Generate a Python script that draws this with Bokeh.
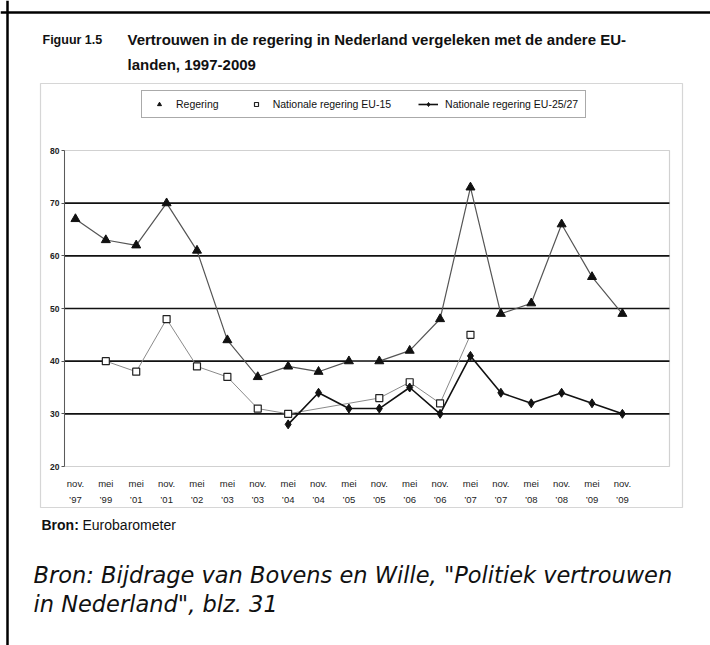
from bokeh.plotting import figure
from bokeh.models import (Range1d, FixedTicker, LinearAxis, Label, BoxAnnotation,
                          Legend, LegendItem, Span)
from bokeh.embed import file_html
from bokeh.resources import INLINE

# ---- data ----
period_month = ["nov.", "mei", "mei", "nov.", "mei", "mei", "nov.", "mei", "nov.", "mei",
                "nov.", "mei", "nov.", "mei", "nov.", "mei", "nov.", "mei", "nov."]
period_year = ["’97", "’99", "’01", "’01", "’02", "’03", "’03", "’04", "’04", "’05",
               "’05", "’06", "’06", "’07", "’07", "’08", "’08", "’09", "’09"]
regering = [67, 63, 62, 70, 61, 44, 37, 39, 38, 40, 40, 42, 48, 73, 49, 51, 66, 56, 49]
eu15 = [None, 40, 38, 48, 39, 37, 31, 30, None, None, 33, 36, 32, 45,
        None, None, None, None, None]
eu25 = [None, None, None, None, None, None, None, 28, 34, 31, 31, 35, 30, 41,
        34, 32, 34, 32, 30]
y_ticks = [20, 30, 40, 50, 60, 70, 80]
grid_ticks = [30, 40, 50, 60, 70]

title_fig = "Figuur 1.5"
title_l1 = "Vertrouwen in de regering in Nederland vergeleken met de andere EU-"
title_l2 = "landen, 1997-2009"
legend_labels = ["Regering", "Nationale regering EU-15", "Nationale regering EU-25/27"]
source1 = "Bron:"
source2 = "Eurobarometer"
caption1 = "Bron: Bijdrage van Bovens en Wille, \"Politiek vertrouwen"
caption2 = "in Nederland\", blz. 31"

SANS = "Liberation Sans"

# ---- layout (canvas pixels; canvas starts at page origin) ----
W, H = 710, 645
PL, PR, PT, PB = 64, 669, 150, 466          # plot area edges on the canvas
X_LO, X_HI = -0.36, 19.55                   # data x at plot area edges
Y_LO, Y_HI = 20, 80                         # data y at plot area edges
sx = (X_HI - X_LO) / (PR - PL)
sy = (Y_HI - Y_LO) / (PB - PT)

idx = list(range(len(period_month)))

def pairs(vals):
    xs = [i for i, v in zip(idx, vals) if v is not None]
    ys = [v for v in vals if v is not None]
    return xs, ys

def scr(X, Y):
    """page px (top-left origin) -> screen units of the frame (= canvas)"""
    return X, H - Y

p = figure(width=W, height=H, output_backend="svg", toolbar_location=None,
           x_range=Range1d(X_LO - PL * sx, X_HI + (W - PR) * sx),
           y_range=Range1d(Y_LO - (H - PB) * sy, Y_HI + PT * sy),
           min_border=0, min_border_left=0, min_border_right=0,
           min_border_top=0, min_border_bottom=0,
           background_fill_color="white", border_fill_color="white")
p.outline_line_color = None
p.xgrid.visible = False
p.ygrid.visible = False

# horizontal grid lines limited to the plot area
p.segment(x0=[X_LO] * len(grid_ticks), x1=[X_HI] * len(grid_ticks),
          y0=grid_ticks, y1=grid_ticks, line_color="#111111", line_width=1.6)

# y axis at the plot area's left edge
ya = p.yaxis[0]
ya.fixed_location = X_LO
ya.bounds = (Y_LO, Y_HI)
ya.ticker = FixedTicker(ticks=y_ticks)
ya.axis_line_color = "#555555"
ya.major_tick_line_color = "#555555"
ya.major_tick_out = 3
ya.major_tick_in = 0
ya.minor_tick_line_color = None
ya.major_label_standoff = 2
ya.major_label_text_font = SANS
ya.major_label_text_font_style = "bold"
ya.major_label_text_font_size = "8.5px"
ya.major_label_text_color = "#222222"

# x axis: two rows of labels
xa = p.xaxis[0]
xa.fixed_location = Y_LO
xa.ticker = FixedTicker(ticks=idx)
xa.major_label_overrides = {i: t for i, t in zip(idx, period_month)}
xa.axis_line_color = None
xa.major_tick_line_color = None
xa.major_tick_out = 0
xa.major_tick_in = 0
xa.minor_tick_line_color = None
xa.major_label_standoff = 11
xa.major_label_text_font = SANS
xa.major_label_text_font_size = "9.5px"
xa.major_label_text_color = "#222222"

xa2 = LinearAxis(ticker=FixedTicker(ticks=idx), fixed_location=Y_LO,
                 major_label_overrides={i: t for i, t in zip(idx, period_year)})
xa2.axis_line_color = None
xa2.major_tick_line_color = None
xa2.major_tick_out = 0
xa2.major_tick_in = 0
xa2.minor_tick_line_color = None
xa2.major_label_standoff = 27
xa2.major_label_text_font = SANS
xa2.major_label_text_font_size = "9.5px"
xa2.major_label_text_color = "#222222"
p.add_layout(xa2, "below")

# plot area outline
p.add_layout(BoxAnnotation(left=X_LO, right=X_HI, bottom=Y_LO, top=Y_HI,
                           fill_color=None, line_color="#666666", line_width=1.2))

# series
rx, ry = pairs(regering)
r_line = p.line(rx, ry, line_color="#555555", line_width=1.2)
r_pts = p.scatter(rx, ry, marker="triangle", size=9, fill_color="#111111",
                  line_color="#111111")

ex, ey = pairs(eu15)
e_line = p.line(ex, ey, line_color="#8a8a8a", line_width=1)
e_pts = p.scatter(ex, ey, marker="square", size=7, fill_color="white",
                  line_color="#222222", line_width=1.2)

nx, ny = pairs(eu25)
n_line = p.line(nx, ny, line_color="#111111", line_width=1.6)
n_pts = p.scatter(nx, ny, marker="diamond", size=9, fill_color="#111111",
                  line_color="#111111")

legend = Legend(items=[LegendItem(label=legend_labels[0], renderers=[r_pts]),
                       LegendItem(label=legend_labels[1], renderers=[e_pts]),
                       LegendItem(label=legend_labels[2], renderers=[n_line, n_pts])],
                orientation="horizontal", location=scr(141, 118))
legend.margin = 0
legend.padding = 7
legend.spacing = 27
legend.glyph_width = 20
legend.glyph_height = 10
legend.label_standoff = 7
legend.label_height = 10
legend.label_text_font = SANS
legend.label_text_font_size = "10.5px"
legend.label_text_color = "#111111"
legend.border_line_color = "#555555"
legend.border_line_width = 1
legend.background_fill_color = "white"
legend.background_fill_alpha = 1
p.add_layout(legend)

# chart box (screen units)
cl, ct = scr(40, 83)
cr, cb = scr(682, 507)
p.add_layout(BoxAnnotation(left=cl, right=cr, top=ct, bottom=cb,
                           left_units="screen", right_units="screen",
                           top_units="screen", bottom_units="screen",
                           fill_color=None, line_color="#777777", line_width=1.2))

# page border: left and top edges
bx, by = scr(7, 12)
p.add_layout(Span(location=bx, location_units="screen", dimension="height",
                  line_color="#000000", line_width=2.5))
p.add_layout(Span(location=by, location_units="screen", dimension="width",
                  line_color="#000000", line_width=2.5))

def lab(X, Y, text, font=SANS, size="15px", style="bold", color="#111111"):
    x, y = scr(X, Y)
    p.add_layout(Label(x=x, y=y, x_units="screen", y_units="screen", text=text,
                       text_font=font, text_font_size=size,
                       text_font_style=style, text_color=color,
                       text_baseline="middle", text_align="left"))

lab(42, 39, title_fig, size="12.5px")
lab(127, 39, title_l1)
lab(127, 64, title_l2)
lab(41, 524, source1, size="14px")
lab(82, 524, source2, size="14px", style="normal")
lab(33, 574, caption1, font="DejaVu Sans", size="22.5px", style="italic")
lab(33, 603, caption2, font="DejaVu Sans", size="22.5px", style="italic")

open("out.html", "w").write(file_html(p, INLINE))
